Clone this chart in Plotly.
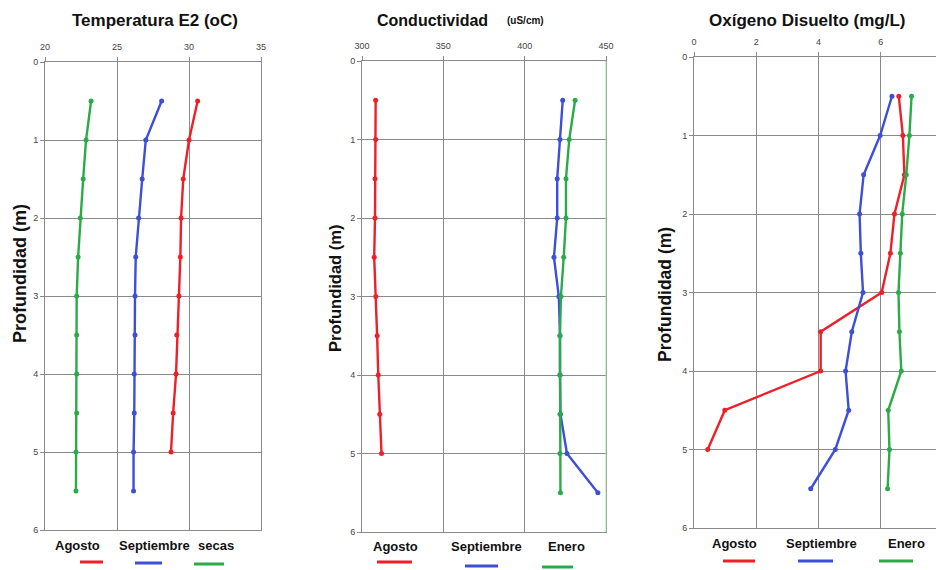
import plotly.graph_objects as go

# the page body has an 8px margin, so the figure starts at (8, 8) of the window
OFF = 8
W, H = 944 - OFF, 570 - OFF

depth = [0.5, 1, 1.5, 2, 2.5, 3, 3.5, 4, 4.5, 5, 5.5]

# Temperatura E2 (oC)
temp_agosto = [30.6, 30.0, 29.6, 29.45, 29.4, 29.3, 29.15, 29.1, 28.9, 28.75]
temp_septiembre = [28.1, 27.0, 26.75, 26.5, 26.3, 26.25, 26.25, 26.2, 26.2, 26.15, 26.15]
temp_secas = [23.2, 22.85, 22.65, 22.45, 22.3, 22.2, 22.2, 22.2, 22.2, 22.15, 22.15]

# Conductividad (uS/cm)
cond_agosto = [308.4, 308.4, 308.0, 308.0, 307.5, 308.5, 309.3, 310.0, 310.9, 312.0]
cond_septiembre = [423.4, 421.7, 420.0, 420.0, 418.0, 421.0, 421.7, 421.7, 422.0, 426.0, 445.0]
cond_enero = [431.0, 427.4, 425.4, 425.4, 424.0, 422.3, 421.7, 421.7, 421.7, 421.7, 422.0]

# Oxigeno disuelto (mg/L)
od_agosto = [6.58, 6.71, 6.76, 6.44, 6.31, 6.03, 4.07, 4.07, 0.99, 0.44]
od_septiembre = [6.36, 5.98, 5.45, 5.32, 5.36, 5.43, 5.07, 4.87, 4.97, 4.54, 3.75]
od_enero = [6.99, 6.92, 6.82, 6.69, 6.63, 6.57, 6.60, 6.66, 6.24, 6.28, 6.22]

RED, BLUE, GREEN = "#ef1f28", "#3d4ed8", "#2bab48"
FONT = "Liberation Sans"


def px(X):
    return (X - OFF) / W


def py(Y):
    return 1 - (Y - OFF) / H


panels = [
    dict(x=(45, 261), y=(62, 530), xr=[20, 35], dt=5,
         series=[(temp_agosto, RED), (temp_septiembre, BLUE), (temp_secas, GREEN)],
         labels=["Agosto", "Septiembre", "secas"]),
    dict(x=(362, 606), y=(61, 532), xr=[300, 450], dt=50,
         series=[(cond_agosto, RED), (cond_septiembre, BLUE), (cond_enero, GREEN)],
         labels=["Agosto", "Septiembre", "Enero"]),
    dict(x=(694, 943), y=(57, 528), xr=[0, 8], dt=2,
         series=[(od_agosto, RED), (od_septiembre, BLUE), (od_enero, GREEN)],
         labels=["Agosto", "Septiembre", "Enero"]),
]

fig = go.Figure()
annotations = []
shapes = []

for i, p in enumerate(panels, start=1):
    xa = "x" if i == 1 else f"x{i}"
    ya = "y" if i == 1 else f"y{i}"
    for vals, col in p["series"]:
        fig.add_trace(go.Scatter(
            x=vals, y=depth[:len(vals)], xaxis=xa, yaxis=ya, mode="lines+markers",
            line=dict(color=col, width=2.4), marker=dict(color=col, size=5),
            showlegend=False, hoverinfo="skip"))
    axis_common = dict(showgrid=True, gridcolor="#8a8a8a", gridwidth=1,
                       showline=True, linecolor="#8a8a8a", linewidth=1, mirror=True,
                       zeroline=False, ticks="outside", ticklen=4, tickcolor="#8a8a8a",
                       automargin=False, ticklabeloverflow="allow",
                       tickfont=dict(size=9, color="#444", family=FONT))
    fig.update_layout(**{
        ("xaxis" if i == 1 else f"xaxis{i}"): dict(
            domain=[px(p["x"][0]), min(px(p["x"][1]), 1)], range=p["xr"], dtick=p["dt"],
            side="top", anchor=ya, ticklabelstandoff=3, **axis_common),
        ("yaxis" if i == 1 else f"yaxis{i}"): dict(
            domain=[py(p["y"][1]), py(p["y"][0])], range=[6, 0], dtick=1,
            anchor=xa, **axis_common),
    })

# titles
annotations += [
    dict(x=155, y=20, text="<b>Temperatura E2 (oC)</b>", font=dict(size=17)),
    dict(x=432, y=20, text="<b>Conductividad</b>", font=dict(size=16)),
    dict(x=525, y=20, text="<b>(uS/cm)</b>", font=dict(size=10)),
    dict(x=807, y=20, text="<b>Oxígeno Disuelto (mg/L)</b>", font=dict(size=17)),
]
for xpos, ymid, fs in [(20, 274, 18), (335, 289, 16.5), (665, 295, 17.5)]:
    annotations.append(dict(x=xpos, y=ymid, text="<b>Profundidad (m)</b>",
                            textangle=-90, font=dict(size=fs)))

# legend texts and swatches under each panel
legend_pos = [
    [(77, 545, 80, 103, 562), (154, 545, 135, 162, 563), (216, 545, 194, 224, 564)],
    [(395, 546, 377, 412, 562), (487, 546, 465, 498, 566), (566, 546, 542, 573, 567)],
    [(734, 543, 723, 755, 561), (821, 543, 798, 833, 561), (906, 543, 879, 913, 561)],
]
for p, pos in zip(panels, legend_pos):
    for lab, (vals, col), (tx, ty, x0, x1, ly) in zip(p["labels"], p["series"], pos):
        annotations.append(dict(x=tx, y=ty, text=f"<b>{lab}</b>", font=dict(size=13)))
        shapes.append(dict(type="line", xref="paper", yref="paper",
                           x0=px(x0), x1=px(x1), y0=py(ly), y1=py(ly),
                           line=dict(color=col, width=3)))

# light green right border on the conductivity panel
shapes.append(dict(type="line", xref="paper", yref="paper",
                   x0=px(606), x1=px(606), y0=py(532), y1=py(61),
                   line=dict(color="#9fd9b0", width=1)))

for a in annotations:
    a["x"] = px(a["x"])
    a["y"] = py(a["y"])
    a.update(xref="paper", yref="paper", showarrow=False,
             xanchor="center", yanchor="middle")
    a["font"].update(family=FONT, color="#111")

fig.update_layout(width=W, height=H, margin=dict(l=0, r=0, t=0, b=0),
                  paper_bgcolor="white", plot_bgcolor="white",
                  annotations=annotations, shapes=shapes,
                  font=dict(family=FONT))

fig.write_html("out.html")
